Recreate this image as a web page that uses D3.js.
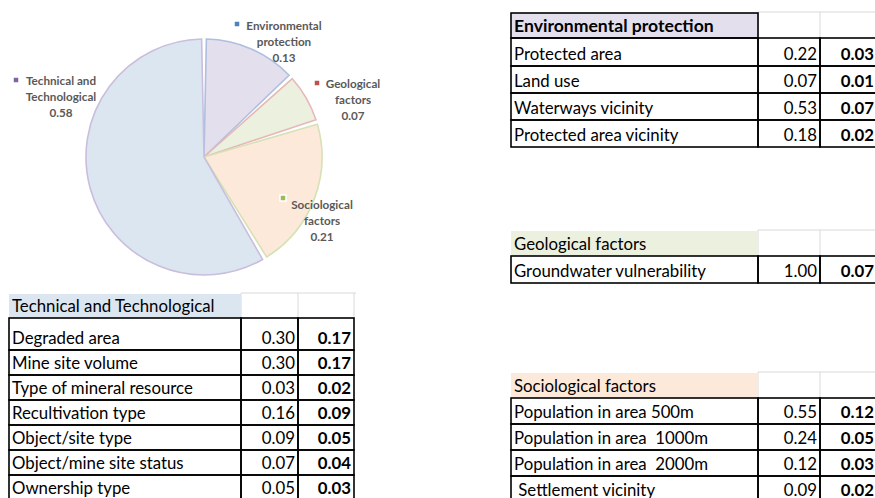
<!DOCTYPE html>
<html>
<head>
<meta charset="utf-8">
<script src="https://cdn.jsdelivr.net/npm/d3@7"></script>
<style>
  body { margin: 0; background: #fff; }
  svg text { font-family: Lato, "Noto Sans", sans-serif; }
  .cell { font-size: 16.8px; fill: #000; white-space: pre; }
  .bold { font-weight: bold; }
  .head.bold { font-size: 17.6px; }
  .pielab { font-size: 11.7px; font-weight: bold; fill: #595959; }
</style>
</head>
<body>
<div id="chart"></div>
<script>
// pie data
var pieNames = ["Environmental protection", "Geological factors", "Sociological factors", "Technical and Technological"]
var pieValues = [0.13, 0.07, 0.21, 0.58]
var pieLines = [["Environmental", "protection"], ["Geological", "factors"], ["Sociological", "factors"], ["Technical and", "Technological"]]

// tables
var techRows = ["Degraded area", "Mine site volume", "Type of mineral resource", "Recultivation type", "Object/site type", "Object/mine site status", "Ownership type"]
var techWeights = [0.30, 0.30, 0.03, 0.16, 0.09, 0.07, 0.05]
var techScores = [0.17, 0.17, 0.02, 0.09, 0.05, 0.04, 0.03]

var envRows = ["Protected area", "Land use", "Waterways vicinity", "Protected area vicinity"]
var envWeights = [0.22, 0.07, 0.53, 0.18]
var envScores = [0.03, 0.01, 0.07, 0.02]

var geoRows = ["Groundwater vulnerability"]
var geoWeights = [1.00]
var geoScores = [0.07]

var socRows = ["Population in area 500m", "Population in area  1000m", "Population in area  2000m", " Settlement vicinity"]
var socWeights = [0.55, 0.24, 0.12, 0.09]
var socScores = [0.12, 0.05, 0.03, 0.02]

var width = 875, height = 498

var svg = d3.select("#chart").append("svg")
  .attr("width", width)
  .attr("height", height)

// ---- pie ----
var cx = 204, cy = 157, radius = 119
var sliceFill = ["#e4dfec", "#ebf1de", "#fde9d9", "#dce6f1"]
var sliceStroke = ["#aebfe0", "#e6b9b8", "#d4e2b6", "#c9bedc"]
var markerColor = ["#4f81bd", "#c0504d", "#9bbb59", "#8064a2"]
// label anchor (centre of first text line) and marker offset, per slice
var labelPos = [
  {x: 284, y: 26, mx: -47, my: -2},
  {x: 353, y: 84, mx: -36, my: -1},
  {x: 322, y: 205, mx: -39, my: -7},
  {x: 61, y: 81, mx: -45, my: -1}
]

var pie = d3.pie().sort(null).value(function(d){ return d })
var arc = d3.arc().innerRadius(0).outerRadius(radius - 1).padAngle(0.04).padRadius(radius)

var pieG = svg.append("g").attr("transform", "translate(" + cx + "," + cy + ")")

pieG.selectAll(".slice")
  .data(pie(pieValues))
  .enter().append("path")
  .attr("class", "slice")
  .attr("d", arc)
  .attr("fill", function(d, i){ return sliceFill[i] })
  .attr("stroke", function(d, i){ return sliceStroke[i] })
  .attr("stroke-width", 1.6)

var labs = svg.selectAll(".pielabel")
  .data(pieValues)
  .enter().append("g")
  .attr("class", "pielabel")
  .attr("transform", function(d, i){ return "translate(" + labelPos[i].x + "," + labelPos[i].y + ")" })

labs.append("rect")
  .attr("x", function(d, i){ return labelPos[i].mx - 3 })
  .attr("y", function(d, i){ return labelPos[i].my - 3 })
  .attr("width", 6)
  .attr("height", 6)
  .attr("fill", function(d, i){ return markerColor[i] })
  .attr("stroke", "#fff")
  .attr("stroke-width", 1.5)

labs.each(function(d, i){
  var g = d3.select(this)
  var lines = pieLines[i].concat([d3.format(".2f")(d)])
  g.selectAll("text")
    .data(lines)
    .enter().append("text")
    .attr("class", "pielab")
    .attr("text-anchor", "middle")
    .attr("x", 0)
    .attr("y", function(t, j){ return j * 16 + 4 })
    .text(function(t){ return t })
})

// ---- tables ----
function drawTable(opt){
  var g = svg.append("g")
  var x = opt.cols  // [left, col1 right, col2 right, col3 right]
  var fmt = d3.format(".2f")

  // light grid around empty header cells
  g.append("line")
    .attr("x1", x[1]).attr("x2", x[3] + 2)
    .attr("y1", opt.headTop).attr("y2", opt.headTop)
    .attr("stroke", "#d9d9d9")
  ;[x[1], x[2], x[3]].forEach(function(xx){
    g.append("line")
      .attr("x1", xx).attr("x2", xx)
      .attr("y1", opt.headTop).attr("y2", opt.headBottom)
      .attr("stroke", "#d9d9d9")
  })

  g.append("rect")
    .attr("x", x[0]).attr("y", opt.headTop + 1)
    .attr("width", x[1] - x[0]).attr("height", opt.headBottom - opt.headTop - 1)
    .attr("fill", opt.headFill)
    .attr("stroke", opt.headBox ? "#000" : "none")
    .attr("stroke-width", 1.6)

  g.append("text")
    .attr("class", "cell head" + (opt.headBold ? " bold" : ""))
    .attr("x", x[0] + 3)
    .attr("y", opt.headBottom - 6)
    .text(opt.title)

  // row positions: first row may be taller
  var yEdges = [opt.headBottom, opt.headBottom + opt.firstRow]
  for (var k = 1; k < opt.rows.length; k++) yEdges.push(yEdges[k] + opt.rowH)
  var yScale = d3.scaleOrdinal().domain(opt.rows).range(yEdges.slice(0, -1))
  var hOf = function(d, i){ return yEdges[i + 1] - yEdges[i] }

  var data = opt.rows.map(function(r, i){ return {name: r, w: opt.weights[i], s: opt.scores[i]} })

  var rows = g.selectAll(".row")
    .data(data)
    .enter().append("g")
    .attr("class", "row")

  // cell boxes
  ;[0, 1, 2].forEach(function(c){
    rows.append("rect")
      .attr("x", x[c])
      .attr("y", function(d){ return yScale(d.name) })
      .attr("width", x[c + 1] - x[c])
      .attr("height", hOf)
      .attr("fill", "none")
      .attr("stroke", "#000")
      .attr("stroke-width", 1.6)
  })

  rows.append("text")
    .attr("class", "cell")
    .attr("x", x[0] + 3)
    .attr("y", function(d, i){ return yScale(d.name) + hOf(d, i) - 6 })
    .text(function(d){ return d.name })

  rows.append("text")
    .attr("class", "cell")
    .attr("text-anchor", "end")
    .attr("x", x[2] - 3)
    .attr("y", function(d, i){ return yScale(d.name) + hOf(d, i) - 6 })
    .text(function(d){ return fmt(d.w) })

  rows.append("text")
    .attr("class", "cell bold")
    .attr("text-anchor", "end")
    .attr("x", x[3] - 3)
    .attr("y", function(d, i){ return yScale(d.name) + hOf(d, i) - 6 })
    .text(function(d){ return fmt(d.s) })
}

drawTable({
  title: "Technical and Technological", rows: techRows, weights: techWeights, scores: techScores,
  cols: [9, 241, 298, 354], headTop: 293, headBottom: 318, firstRow: 32, rowH: 25,
  headFill: "#dce6f1", headBox: false, headBold: false
})
drawTable({
  title: "Environmental protection", rows: envRows, weights: envWeights, scores: envScores,
  cols: [511, 758, 820, 877], headTop: 12, headBottom: 38, firstRow: 28, rowH: 27,
  headFill: "#e4dfec", headBox: true, headBold: true
})
drawTable({
  title: "Geological factors", rows: geoRows, weights: geoWeights, scores: geoScores,
  cols: [511, 758, 820, 877], headTop: 230, headBottom: 256, firstRow: 27, rowH: 27,
  headFill: "#ebf1de", headBox: false, headBold: false
})
drawTable({
  title: "Sociological factors", rows: socRows, weights: socWeights, scores: socScores,
  cols: [511, 758, 820, 877], headTop: 372, headBottom: 398, firstRow: 26, rowH: 26,
  headFill: "#fde9d9", headBox: false, headBold: false
})
</script>
</body>
</html>
